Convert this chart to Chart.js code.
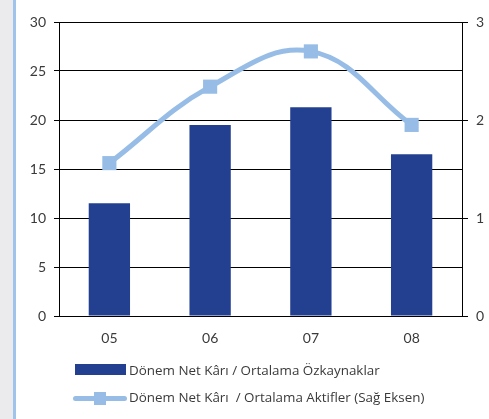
<!DOCTYPE html>
<html>
<head>
<meta charset="utf-8">
<script src="https://cdn.jsdelivr.net/npm/chart.js@4"></script>
<style>
body{margin:0;background:#fff;font-family:Lato,"Open Sans",sans-serif}
#kutu{position:relative;width:489px;height:419px;overflow:hidden}
#serit{position:absolute;left:0;top:0;width:13px;height:419px;background:#ebebed}
#cizgi{position:absolute;left:13px;top:0;width:3px;height:419px;background:#9fc3ea}
#grafik{position:absolute;left:0;top:0}
.lejant{position:absolute;left:73px;height:14px;font-family:"Open Sans",sans-serif;font-size:13.4px;color:#3a3a3a;line-height:14px;white-space:pre}
.lejant span{position:absolute;left:56px;top:-1px}
.kutuRenk{position:absolute;left:2px;top:0;width:51px;height:11px;background:#233f8f}
.hat{position:absolute;left:0;top:5px;width:54px;height:5px;border-radius:3px;background:#97bde6}
.kare{position:absolute;left:21px;top:1px;width:12px;height:13px;background:#97bde6}
</style>
</head>
<body>
<div id="kutu">
<div id="serit"></div>
<div id="cizgi"></div>
<canvas id="grafik" width="489" height="419"></canvas>
<div class="lejant" style="top:364px"><div class="kutuRenk"></div><span id="ad1"></span></div>
<div class="lejant" style="top:391px"><div class="hat"></div><div class="kare"></div><span id="ad2"></span></div>
</div>
<script>
let yillar = ["05","06","07","08"]

let ozkaynakKari = [11.5,19.5,21.3,16.5]

let aktifKari = [1.56,2.34,2.70,1.95]

let seriAdlari = ["Dönem Net Kârı / Ortalama Özkaynaklar","Dönem Net Kârı  / Ortalama Aktifler (Sağ Eksen)"]

let yaziRengi = "#3a3a3a"

document.getElementById("ad1").textContent = seriAdlari[0]
document.getElementById("ad2").textContent = seriAdlari[1]

let ctx = document.getElementById("grafik")

let grafik = new Chart(ctx,{

data:{
labels:yillar,
datasets:[
{
type:"line",
label:seriAdlari[1],
data:aktifKari,
yAxisID:"sag",
borderColor:"#97bde6",
backgroundColor:"#97bde6",
borderWidth:5,
tension:0.4,
pointStyle:"rect",
pointRadius:10,
pointBorderWidth:0,
order:0
},
{
type:"bar",
label:seriAdlari[0],
data:ozkaynakKari,
yAxisID:"sol",
backgroundColor:"#233f8f",
barPercentage:0.41,
categoryPercentage:1,
order:1
}
]
},

options:{
responsive:false,
animation:false,
layout:{padding:{top:22,left:0,right:0,bottom:0}},
plugins:{
legend:{display:false},
tooltip:{enabled:false}
},
scales:{
x:{
grid:{display:false},
border:{display:true,color:"#000",width:1},
ticks:{color:yaziRengi,font:{size:14,family:"Lato"},padding:6},
afterFit:function(s){s.height = 419 - 316}
},
sol:{
position:"left",
min:0,
max:30,
ticks:{stepSize:5,color:yaziRengi,font:{size:14,family:"Lato"},padding:8},
grid:{color:"#000",lineWidth:1,tickLength:5,tickColor:"#000"},
border:{color:"#000",width:1},
afterFit:function(s){s.width = 59}
},
sag:{
position:"right",
min:0,
max:3,
ticks:{stepSize:1,color:yaziRengi,font:{size:14,family:"Lato"},padding:8},
grid:{drawOnChartArea:false,tickLength:6,tickColor:"#000"},
border:{color:"#000",width:1},
afterFit:function(s){s.width = 27}
}
}
}

})
</script>
</body>
</html>
